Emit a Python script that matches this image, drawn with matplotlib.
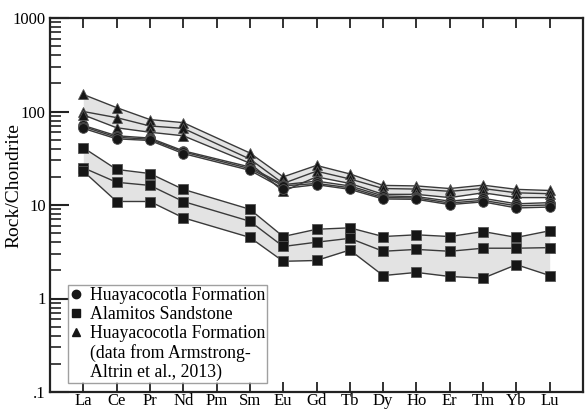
import matplotlib
matplotlib.use("Agg")
import matplotlib.pyplot as plt
from matplotlib.ticker import FixedLocator, LogLocator, NullFormatter
from matplotlib.lines import Line2D
import numpy as np

elements = ["La", "Ce", "Pr", "Nd", "Pm", "Sm", "Eu", "Gd", "Tb", "Dy", "Ho", "Er", "Tm", "Yb", "Lu"]
plotted = ["La", "Ce", "Pr", "Nd", "Sm", "Eu", "Gd", "Tb", "Dy", "Ho", "Er", "Tm", "Yb", "Lu"]

tri_1 = [152, 110, 82, 76, 36, 20, 26.5, 21.5, 16.2, 16, 15, 16.3, 14.7, 14.3]
tri_2 = [100, 86, 70, 66, 31, 17, 23, 19, 15, 14.8, 14, 15, 13.5, 13.2]
tri_3 = [92, 67, 60, 55, 28, 14, 20, 17, 13, 13, 12, 13.5, 12, 12]

circ_1 = [71, 55, 52, 38, 25.5, 16.5, 18, 16, 12.5, 12.3, 11, 11.8, 10.3, 10.6]
circ_2 = [69, 53, 50.5, 37, 24.5, 16, 17, 15.3, 12, 11.9, 10.5, 11.2, 9.8, 10]
circ_3 = [66, 51, 49, 35.5, 23.5, 15, 16.5, 14.7, 11.6, 11.5, 10.1, 10.8, 9.3, 9.5]

sq_1 = [41, 24, 21.7, 14.7, 9, 4.6, 5.5, 5.7, 4.6, 4.8, 4.6, 5.2, 4.5, 5.3]
sq_2 = [25, 17.5, 16.2, 10.9, 6.7, 3.6, 4.0, 4.4, 3.2, 3.35, 3.2, 3.45, 3.45, 3.5]
sq_3 = [23, 10.9, 10.9, 7.3, 4.5, 2.5, 2.55, 3.3, 1.76, 1.9, 1.72, 1.65, 2.3, 1.76]

legend_labels = ["Huayacocotla Formation", "Alamitos Sandstone",
                 "Huayacocotla Formation", "(data from Armstrong-",
                 "Altrin et al., 2013)"]

plt.rcParams['font.family'] = ['Liberation Serif', 'DejaVu Serif']

fig = plt.figure(figsize=(5.85, 4.12), dpi=100)
ax = fig.add_axes([50/585, 20/412, 533/585, 374/412])

x = np.array([elements.index(e) for e in plotted])

groups = [
    ([tri_1, tri_2, tri_3], '^'),
    ([circ_1, circ_2, circ_3], 'o'),
    ([sq_1, sq_2, sq_3], 's'),
]
fill_col = '#e3e3e3'
line_col = '#3a3a3a'
for series, mk in groups:
    arr = np.array(series, dtype=float)
    ax.fill_between(x, arr.min(axis=0), arr.max(axis=0), color=fill_col, lw=0, zorder=1)
for series, mk in groups:
    for s in series:
        ax.plot(x, s, color=line_col, lw=1.0, zorder=2)
for series, mk in groups:
    for s in series:
        ax.plot(x, s, ls='none', marker=mk, ms=7 if mk != '^' else 7.5,
                mfc='#161616', mec='#555555', mew=0.6, zorder=3)

ax.set_yscale('log')
ax.set_ylim(0.1, 1000)
ax.set_xlim(-1, 15)

ax.xaxis.set_major_locator(FixedLocator(range(len(elements))))
ax.set_xticklabels(elements)
ax.tick_params(axis='x', which='major', direction='in', length=7, width=1.3,
               top=True, bottom=True, labelsize=12, pad=1, color='#222222')

ax.yaxis.set_major_locator(FixedLocator([0.1, 1, 10, 100, 1000]))
ax.set_yticklabels([".1", "1", "10", "100", "1000"])
ax.yaxis.set_minor_locator(LogLocator(base=10, subs=np.arange(2, 10)))
ax.yaxis.set_minor_formatter(NullFormatter())
ax.tick_params(axis='y', which='major', direction='in', length=14, width=1.5,
               left=True, right=False, labelsize=12, pad=3, color='#222222')
ax.tick_params(axis='y', which='minor', direction='in', length=8, width=1.2,
               left=True, right=False, color='#222222')

for sp in ax.spines.values():
    sp.set_linewidth(1.6)
    sp.set_color('#222222')

ax.set_ylabel("Rock/Chondrite", fontsize=14)
ax.yaxis.set_label_coords(-0.051, 0.553)

handles = [
    Line2D([], [], ls='none', marker='o', ms=6, mfc='#161616', mec='#161616'),
    Line2D([], [], ls='none', marker='s', ms=6, mfc='#161616', mec='#161616'),
    Line2D([], [], ls='none', marker='^', ms=6, mfc='#161616', mec='#161616'),
    Line2D([], [], ls='none', marker=None),
    Line2D([], [], ls='none', marker=None),
]
leg = ax.legend(handles, legend_labels, loc='lower left', bbox_to_anchor=(0.034, 0.024),
                frameon=True, fancybox=False, fontsize=12.8, handlelength=0.6,
                handletextpad=0.5, borderpad=0.12, labelspacing=0.11,
                borderaxespad=0.0)
leg.get_frame().set_edgecolor('#888888')
leg.get_frame().set_linewidth(1.0)

fig.savefig("out.png", dpi=100)
